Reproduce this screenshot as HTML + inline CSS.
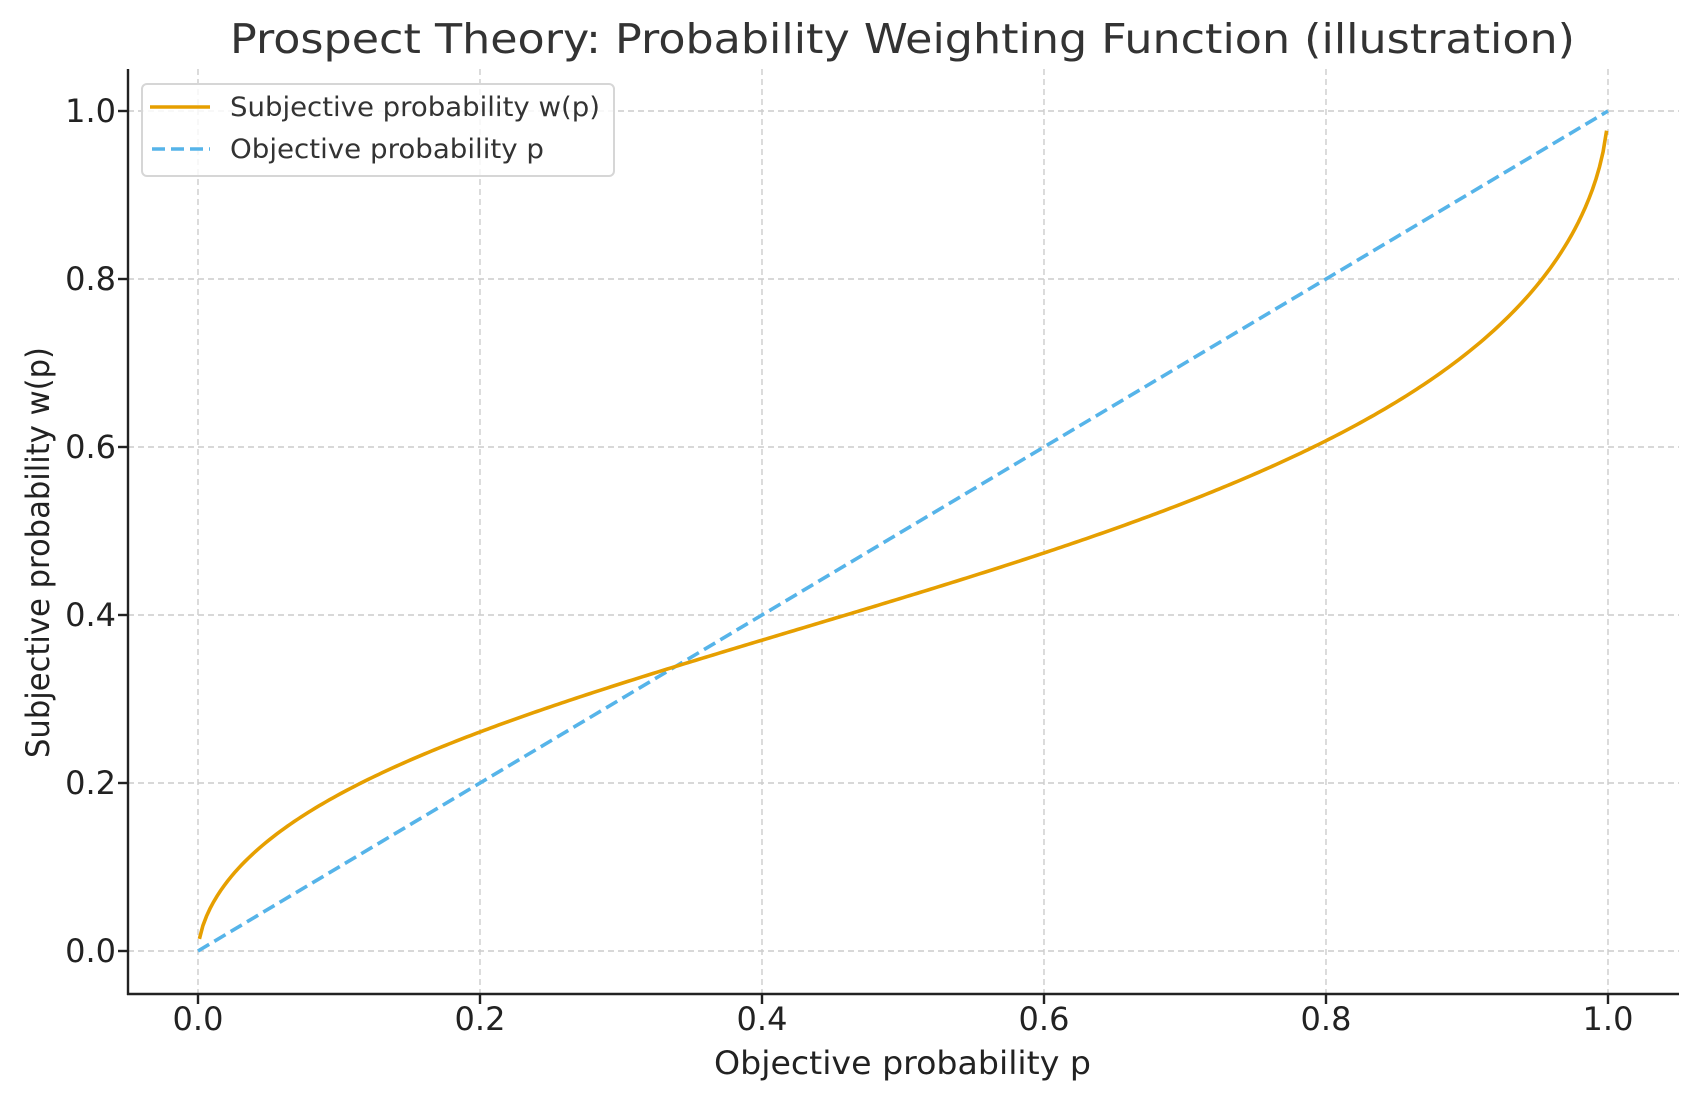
<!DOCTYPE html>
<html><head><meta charset="utf-8"><style>
html,body{margin:0;padding:0;background:#fff;}
svg{display:block;font-family:"DejaVu Sans","Liberation Sans",sans-serif;}
</style></head><body>
<svg id="s" width="1697" height="1101" viewBox="0 0 1697 1101" xmlns="http://www.w3.org/2000/svg">
<rect width="1697" height="1101" fill="#fff"/>
<g stroke="#cccccc" stroke-width="1.4" stroke-dasharray="6,4" fill="none">
<line x1="198" y1="69" x2="198" y2="994"/>
<line x1="480" y1="69" x2="480" y2="994"/>
<line x1="762" y1="69" x2="762" y2="994"/>
<line x1="1044" y1="69" x2="1044" y2="994"/>
<line x1="1326" y1="69" x2="1326" y2="994"/>
<line x1="1608" y1="69" x2="1608" y2="994"/>
<line x1="128" y1="951" x2="1679" y2="951"/>
<line x1="128" y1="783" x2="1679" y2="783"/>
<line x1="128" y1="615" x2="1679" y2="615"/>
<line x1="128" y1="447" x2="1679" y2="447"/>
<line x1="128" y1="279" x2="1679" y2="279"/>
<line x1="128" y1="111" x2="1679" y2="111"/>
</g>
<line x1="198" y1="951" x2="1608" y2="111" stroke="#56B4E9" stroke-width="3.6" stroke-dasharray="13,6"/>
<path id="w" fill="none" stroke="#E69F00" stroke-width="3.6" d=""/>
<g stroke="#222" stroke-width="2.4">
<line x1="128" y1="69" x2="128" y2="995"/>
<line x1="127" y1="994" x2="1679" y2="994"/>
<line x1="198" y1="994" x2="198" y2="1004"/><line x1="480" y1="994" x2="480" y2="1004"/><line x1="762" y1="994" x2="762" y2="1004"/><line x1="1044" y1="994" x2="1044" y2="1004"/><line x1="1326" y1="994" x2="1326" y2="1004"/><line x1="1608" y1="994" x2="1608" y2="1004"/>
<line x1="118" y1="951" x2="128" y2="951"/><line x1="118" y1="783" x2="128" y2="783"/><line x1="118" y1="615" x2="128" y2="615"/><line x1="118" y1="447" x2="128" y2="447"/><line x1="118" y1="279" x2="128" y2="279"/><line x1="118" y1="111" x2="128" y2="111"/>
</g>
<g font-size="32" fill="#222" text-anchor="middle">
<text x="198" y="1030">0.0</text><text x="480" y="1030">0.2</text><text x="762" y="1030">0.4</text><text x="1044" y="1030">0.6</text><text x="1326" y="1030">0.8</text><text x="1608" y="1030">1.0</text>
</g>
<g font-size="32" fill="#222" text-anchor="end">
<text x="116" y="962">0.0</text><text x="116" y="794">0.2</text><text x="116" y="626">0.4</text><text x="116" y="458">0.6</text><text x="116" y="290">0.8</text><text x="116" y="122">1.0</text>
</g>
<text x="230" y="53" font-size="41" fill="#333" textLength="1345" lengthAdjust="spacingAndGlyphs">Prospect Theory: Probability Weighting Function (illustration)</text>
<text x="714" y="1074" font-size="32" fill="#222" textLength="377" lengthAdjust="spacingAndGlyphs">Objective probability p</text>
<text transform="translate(49,758) rotate(-90)" font-size="32" fill="#222" textLength="411" lengthAdjust="spacingAndGlyphs">Subjective probability w(p)</text>
<rect x="142" y="84" width="472" height="92" rx="5" fill="#fff" fill-opacity="0.8" stroke="#d6d6d6" stroke-width="2"/>
<line x1="150" y1="107" x2="210" y2="107" stroke="#E69F00" stroke-width="3.6"/>
<line x1="152" y1="149" x2="210" y2="149" stroke="#56B4E9" stroke-width="3.6" stroke-dasharray="13,6"/>
<text x="230" y="116" font-size="27" fill="#333" textLength="370" lengthAdjust="spacingAndGlyphs">Subjective probability w(p)</text>
<text x="230" y="158" font-size="27" fill="#333" textLength="314" lengthAdjust="spacingAndGlyphs">Objective probability p</text>
</svg>
<script>
(function(){var g=0.61,d="";for(var i=0;i<=400;i++){var p=0.001+0.998*i/400;var a=Math.pow(p,g),b=Math.pow(1-p,g);var w=a/Math.pow(a+b,1/g);var x=198+1410*p,y=951-840*w;d+=(i?"L":"M")+x.toFixed(2)+","+y.toFixed(2);}document.getElementById("w").setAttribute("d",d);})();
</script>
</body></html>
